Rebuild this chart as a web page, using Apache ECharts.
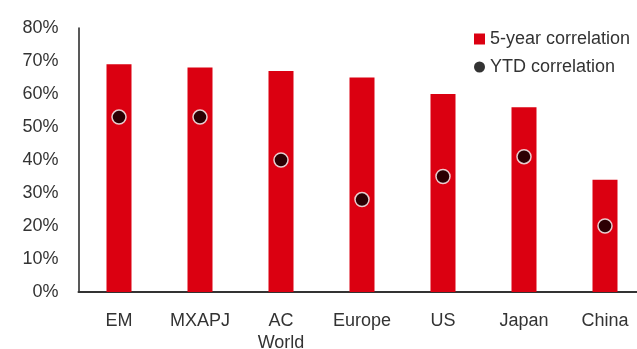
<!DOCTYPE html>
<html>
<head>
<meta charset="utf-8">
<script src="https://cdn.jsdelivr.net/npm/echarts@6/dist/echarts.min.js"></script>
<style>
  html, body { margin: 0; padding: 0; background: #fff; }
  #chart { width: 637px; height: 349px; }
</style>
</head>
<body>
<div id="chart"></div>
<script>
// Markets compared
const categories = ['EM', 'MXAPJ', 'AC\nWorld', 'Europe', 'US', 'Japan', 'China'];
// Correlation values, in percent
const fiveYearCorrelation = [69, 68, 67, 65, 60, 56, 34];
const ytdCorrelation = [53, 53, 40, 28, 35, 41, 20];
// Value axis ticks (percent)
const yTicks = { min: 0, max: 80, interval: 10 };

const FONT = '"Liberation Sans", Arial, sans-serif';
const TEXT = '#333333';

const chart = echarts.init(document.getElementById('chart'), null, { renderer: 'canvas' });
chart.setOption({
  animation: false,
  backgroundColor: '#ffffff',
  textStyle: { fontFamily: FONT },
  grid: {
    left: 78.5, right: -8.5, top: 28, bottom: 57,
    containLabel: false, outerBoundsMode: 'none'
  },
  legend: {
    orient: 'vertical',
    left: 469,
    top: 25,
    itemWidth: 11,
    itemHeight: 11,
    itemGap: 10,
    textStyle: { fontFamily: FONT, fontSize: 18, color: TEXT },
    data: [
      { name: '5-year correlation', icon: 'rect' },
      { name: 'YTD correlation', icon: 'circle', itemStyle: { borderWidth: 0 } }
    ]
  },
  xAxis: {
    type: 'category',
    data: categories,
    axisLine: { show: true, lineStyle: { color: '#333', width: 2 } },
    axisTick: { show: false },
    axisLabel: {
      color: TEXT, fontFamily: FONT, fontSize: 18, margin: 18, lineHeight: 22, interval: 0
    }
  },
  yAxis: {
    type: 'value',
    min: yTicks.min,
    max: yTicks.max,
    interval: yTicks.interval,
    axisLine: { show: true, lineStyle: { color: '#222', width: 1.5 } },
    axisTick: { show: false },
    splitLine: { show: false },
    axisLabel: {
      formatter: '{value}%', color: TEXT, fontFamily: FONT, fontSize: 18, margin: 20
    }
  },
  series: [
    {
      name: '5-year correlation',
      type: 'bar',
      data: fiveYearCorrelation,
      barWidth: 25,
      itemStyle: { color: '#DB0011' }
    },
    {
      name: 'YTD correlation',
      type: 'scatter',
      data: ytdCorrelation,
      symbol: 'circle',
      symbolSize: 14,
      itemStyle: { color: '#000000', borderColor: '#ffffff', borderWidth: 1.5 },
      z: 3
    }
  ]
});
</script>
</body>
</html>
